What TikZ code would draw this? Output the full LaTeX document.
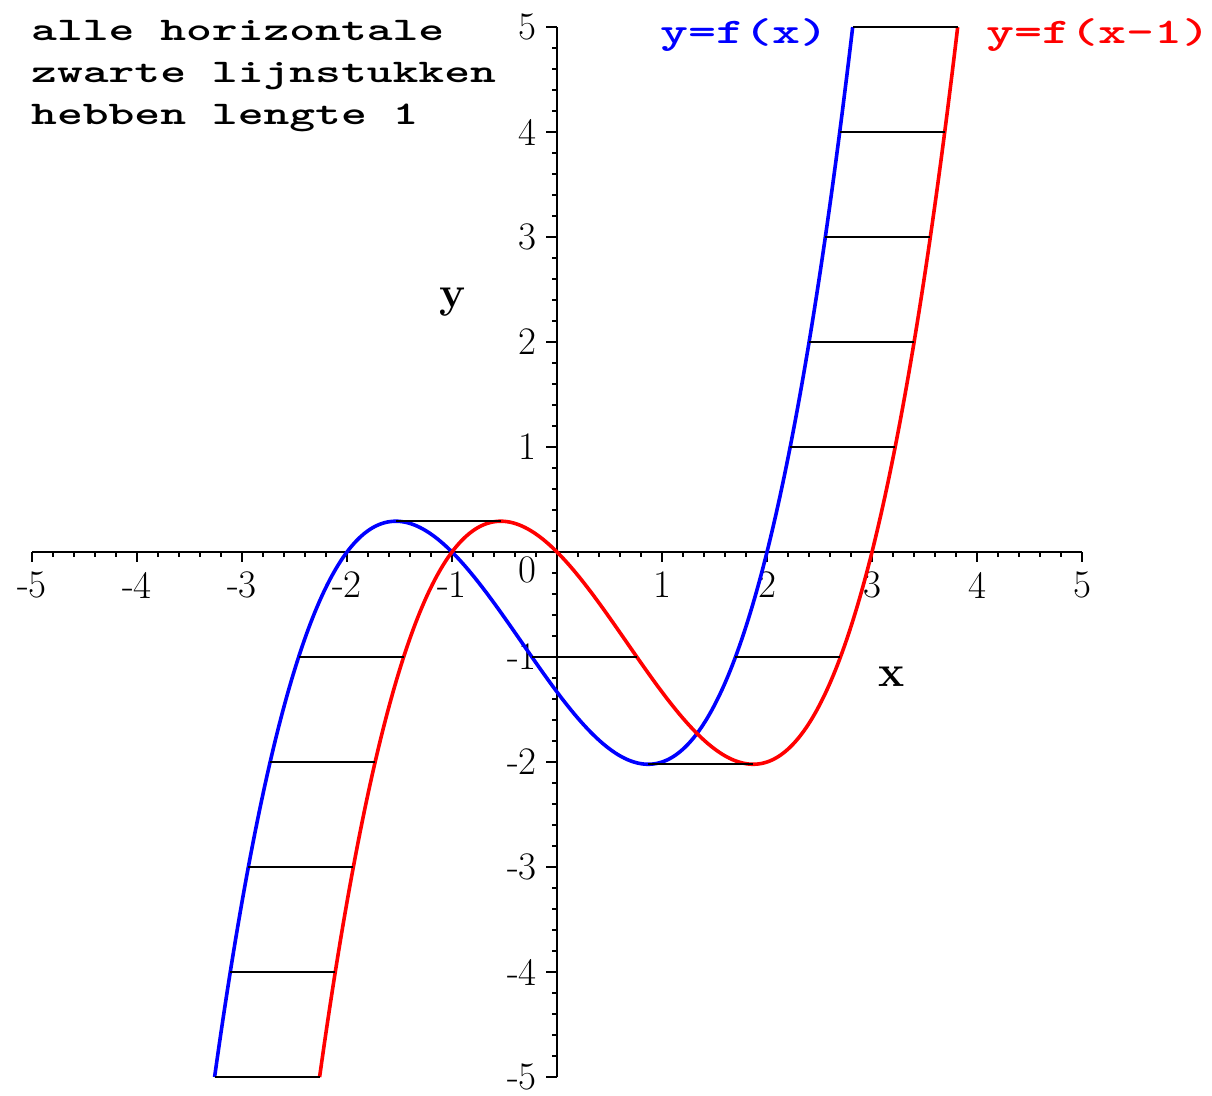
\documentclass[tikz,border=0pt]{standalone}
\begin{document}
\begin{tikzpicture}[x=105pt,y=105pt,
  axis/.style={line width=1.8pt,black},
  tck/.style={line width=1.6pt,black},
  seg/.style={line width=1.8pt,black},
  curve/.style={line width=3.6pt,line join=round},
  ticklab/.style={font=\fontsize{39}{46}\selectfont,inner sep=0pt},
  axlab/.style={font=\fontsize{44}{50}\selectfont\bfseries,inner sep=0pt},
  note/.style={font=\fontsize{33}{40}\selectfont\ttfamily\bfseries,xscale=1.49,inner sep=0pt,anchor=base west},
  leg/.style={font=\fontsize{36}{40}\selectfont\ttfamily\bfseries,xscale=1.48,inner sep=0pt},
]
\useasboundingbox (-557pt,-543pt) rectangle (655pt,552pt);

% tick labels
\foreach \i [count=\k] in {-5,-4,-3,-2,-1,1,2,3,4,5}
  \node[ticklab] (xl\k) at (\i,-0.3143) {\i};
\foreach \i [count=\k] in {-5,-4,-3,-2,-1,1,2,3,4,5}
  \node[ticklab,anchor=east] (yl\k) at (-0.1905,\i) {\i};
\node[ticklab] (zero) at (-0.2857,-0.1714) {0};

% axes
\coordinate (xa) at (-5,0); \coordinate (xb) at (5,0);
\coordinate (ya) at (0,-5); \coordinate (yb) at (0,5);
\draw[axis] (xa) -- (xb);
\draw[axis] (ya) -- (yb);
\foreach \i in {-5,...,5} {
  \draw[tck] (\i,0) -- ++(0,-10pt);
  \draw[tck] (0,\i) -- ++(-11pt,0);
}
\foreach \i in {0,...,49} {
  \draw[tck] ({-5+0.2*\i},0) -- ++(0,-5pt);
  \draw[tck] (0,{-5+0.2*\i}) -- ++(-5pt,0);
}

% axis labels
\node[axlab] (xlab) at (3.190,-1.190) {x};
\node[axlab] (ylab) at (-0.990,2.381) {y};

% curves
\draw[curve,blue,domain=-3.2611:2.816,samples=300] plot (\x,{(\x+2)*(\x+1)*(\x-2)/3});
\draw[curve,red,domain=-2.2611:3.816,samples=300] plot (\x,{(\x+1)*(\x)*(\x-3)/3});

% horizontal segments of length 1
\foreach \xb/\yv [count=\k] in {2.816/5,2.6926/4,2.5556/3,2.4009/2,2.2207/1,
   -1.5352/0.29314,-0.2391/-1,1.6996/-1,-2.4605/-1,0.86852/-2.02155,
   -2.7321/-2,-2.9395/-3,-3.1118/-4,-3.2611/-5} {
  \coordinate (b\k) at (\xb,\yv);
  \coordinate (r\k) at ({\xb+1},\yv);
  \draw[seg] (b\k) -- (r\k);
}

% texts
\node[note] (n1) at (-5.010,4.876) {alle horizontale};
\node[note] (n2) at (-5.010,4.467) {zwarte lijnstukken};
\node[note] (n3) at (-5.010,4.067) {hebben lengte 1};
\node[leg,text=blue] (lb) at (1.785,4.924) {y=f(x)};
\node[leg,text=red] (lr) at (5.160,4.924) {y=f(x-1)};
\end{tikzpicture}
\end{document}
